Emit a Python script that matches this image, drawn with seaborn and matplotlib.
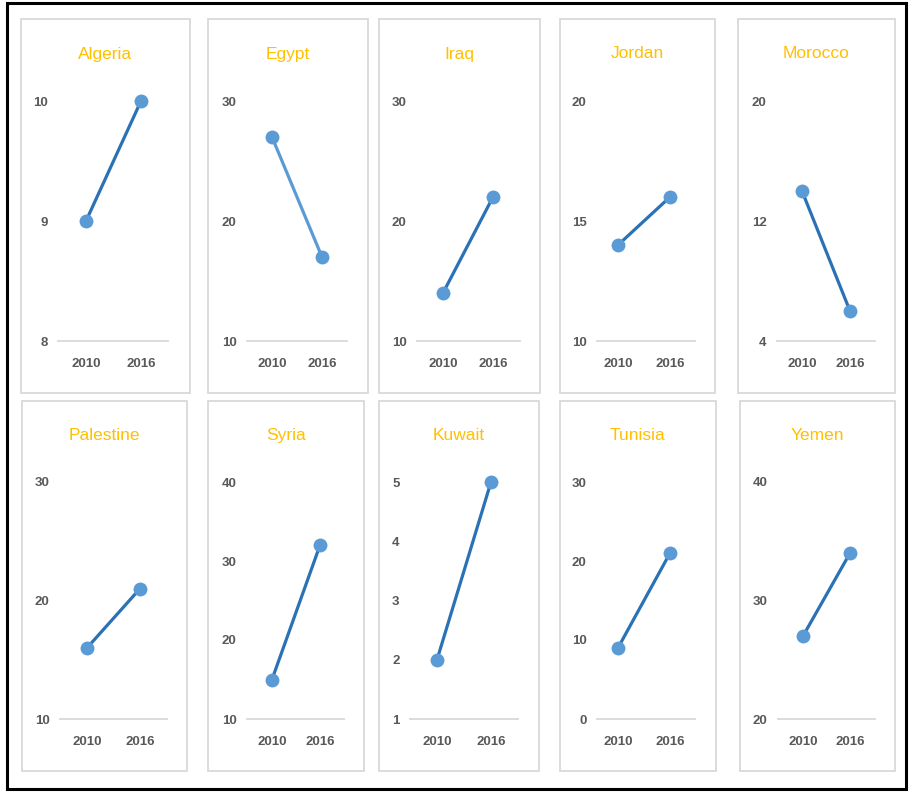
import pandas as pd
import matplotlib
matplotlib.use("Agg")
import matplotlib.pyplot as plt
import seaborn as sns
from matplotlib.patches import Rectangle

# Data
countries = ['Algeria', 'Egypt', 'Iraq', 'Jordan', 'Morocco',
             'Palestine', 'Syria', 'Kuwait', 'Tunisia', 'Yemen']
years = ['2010', '2016']
v2010 = [9, 27, 14, 14, 14, 16, 15, 2, 9, 27]
v2016 = [10, 17, 22, 16, 6, 21, 32, 5, 21, 34]
y_ticks = [[8, 9, 10], [10, 20, 30], [10, 20, 30], [10, 15, 20], [4, 12, 20],
           [10, 20, 30], [10, 20, 30, 40], [1, 2, 3, 4, 5], [0, 10, 20, 30], [20, 30, 40]]

# long table for seaborn
rows = []
for c, a, b in zip(countries, v2010, v2016):
    rows.append({'country': c, 'year': years[0], 'value': a})
    rows.append({'country': c, 'year': years[1], 'value': b})
df = pd.DataFrame(rows)

sns.set_style("white")
plt.rcParams['font.family'] = ['Liberation Sans Narrow', 'Liberation Sans', 'DejaVu Sans']

W, H = 909, 793
fig = plt.figure(figsize=(W / 100, H / 100), dpi=100)
fig.patch.set_facecolor('white')

# layout in pixels: box left/right, baseline left/right, x of 2010 / 2016
layout = [
    (21, 190, 58, 168, 86, 141), (208, 368, 247, 347, 272, 322),
    (379, 540, 417, 520, 443, 493), (560, 715, 597, 695, 618, 670),
    (738, 895, 777, 875, 802, 850),
    (22, 187, 60, 167, 87, 140), (208, 364, 247, 344, 272, 320),
    (379, 539, 410, 518, 437, 491), (560, 716, 597, 695, 618, 670),
    (740, 895, 778, 875, 803, 850),
]
# per row: box top, box bottom, axis top, axis bottom, title y
rows_px = [(19, 393, 101, 341, 54), (401, 771, 482, 719, 436)]

dark = '#2A72B5'
light = '#5B9BD5'
grid_gray = '#D9D9D9'
text_gray = '#595959'
gold = '#FFC000'

# outer frame
fig.patches.append(Rectangle((7 / W, 1 - 789 / H), (906 - 7) / W, (789 - 3) / H,
                             transform=fig.transFigure, fill=False,
                             edgecolor='black', linewidth=2.2))

for i, country in enumerate(countries):
    bl, br, al, ar, x0, x1 = layout[i]
    bt, bb, at, ab, ty = rows_px[i // 5]

    # panel box
    fig.patches.append(Rectangle((bl / W, 1 - bb / H), (br - bl) / W, (bb - bt) / H,
                                 transform=fig.transFigure, fill=False,
                                 edgecolor=grid_gray, linewidth=1.3))

    ax = fig.add_axes([al / W, 1 - ab / H, (ar - al) / W, (ab - at) / H])
    sub = df[df['country'] == country]
    sns.lineplot(data=sub, x='year', y='value', ax=ax,
                 color=light if country == 'Egypt' else dark, linewidth=2.3,
                 marker='o', markersize=10, markerfacecolor=light,
                 markeredgecolor=light, markeredgewidth=0)

    scale = x1 - x0
    ax.set_xlim(-(x0 - al) / scale, 1 + (ar - x1) / scale)
    ticks = y_ticks[i]
    ax.set_ylim(ticks[0], ticks[-1])
    ax.set_yticks(ticks)
    ax.set_xlabel('')
    ax.set_ylabel('')
    for s in ['top', 'right', 'left']:
        ax.spines[s].set_visible(False)
    ax.spines['bottom'].set_color(grid_gray)
    ax.spines['bottom'].set_linewidth(1.3)
    ax.tick_params(axis='y', length=0, pad=7.5, labelsize=9.5, labelcolor=text_gray)
    ax.tick_params(axis='x', length=0, pad=12, labelsize=9.5, labelcolor=text_gray)
    for lab in ax.get_xticklabels() + ax.get_yticklabels():
        lab.set_fontweight('bold')
    ax.patch.set_alpha(0)
    for ln in ax.lines:
        ln.set_clip_on(False)

    fig.text(((bl + br) / 2) / W, 1 - ty / H, country, ha='center', va='center',
             color=gold, fontsize=12.5)

fig.savefig('out.png', dpi=100, facecolor='white')
